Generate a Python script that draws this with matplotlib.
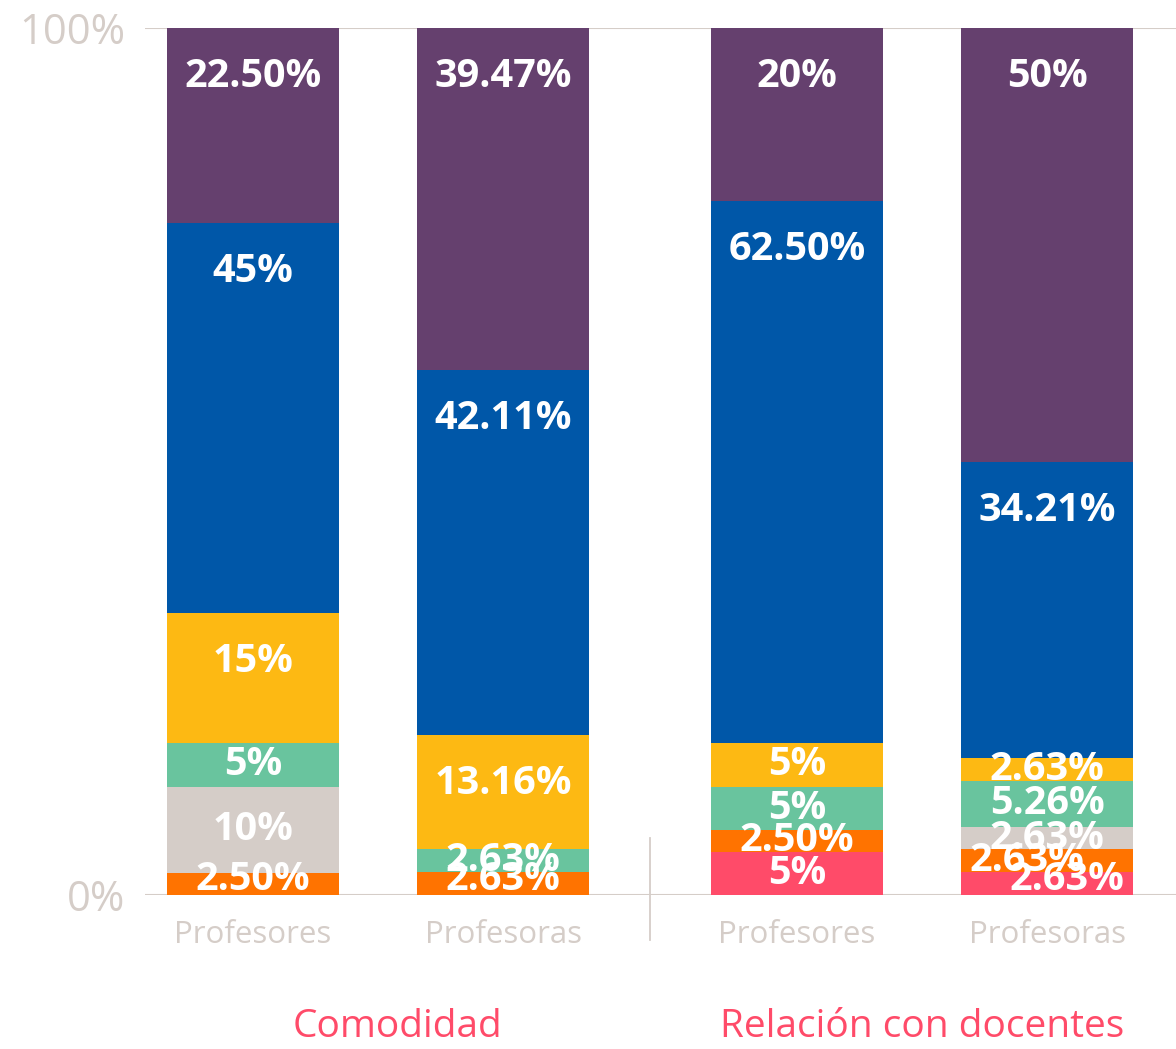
import numpy as np
import matplotlib
matplotlib.use("Agg")
import matplotlib.pyplot as plt

# stacked shares per bar, bottom to top
segments = ["Muy malo", "Malo", "Regular", "Aceptable", "Bueno", "Muy bueno", "Excelente"]
colors = ["#ff4b69", "#ff7300", "#d5cdc8", "#69c49e", "#fdb913", "#0057a8", "#65406e"]

groups = ["Comodidad", "Relación con docentes"]
bar_names = ["Profesores", "Profesoras", "Profesores", "Profesoras"]

comodidad_prof = [0, 2.50, 10, 5, 15, 45, 22.50]
comodidad_profa = [0, 2.63, 0, 2.63, 13.16, 42.11, 39.47]
relacion_prof = [5, 2.50, 0, 5, 5, 62.50, 20]
relacion_profa = [2.63, 2.63, 2.63, 5.26, 2.63, 34.21, 50]

bars = [comodidad_prof, comodidad_profa, relacion_prof, relacion_profa]

light = "#d5cdc8"
accent = "#ff4b69"
plt.rcParams["font.family"] = ["Open Sans", "DejaVu Sans"]

fig = plt.figure(figsize=(11.76, 10.49), dpi=100)
ax = fig.add_axes([0.1233, 0.1468, 0.8767, 0.8265])

gap = 0.176
xpos = [g * (2 + gap) + i for g in range(2) for i in range(2)]
width = 0.688

# small horizontal nudges for crowded labels (bar index, segment index) -> dx
nudge = {(3, 0): 0.08, (3, 1): -0.08}

for b, vals in enumerate(bars):
    bottom = 0.0
    for s, v in enumerate(vals):
        if v <= 0:
            continue
        ax.bar(xpos[b], v, width, bottom=bottom, color=colors[s], linewidth=0)
        top = bottom + v
        y = top - min(v / 2, 5.6)
        y = max(y, 1.8)
        txt = f"{v:.2f}%" if v != int(v) else f"{int(v)}%"
        ax.text(xpos[b] + nudge.get((b, s), 0), y, txt, ha="center", va="center",
                color="white", fontsize=28.5, fontweight="bold")
        bottom = top

ax.axhline(100, color=light, lw=1.5, zorder=0)
ax.axhline(0, color=light, lw=1.5, zorder=0)

sep = (xpos[1] + xpos[2]) / 2
ax.plot([sep, sep], [6.6, -5.2], color=light, lw=1.3, clip_on=False)

ax.set_xlim(-0.432, 3.692)
ax.set_ylim(0, 100)
ax.set_yticks([0, 100])
ax.set_yticklabels(["0%", "100%"], fontsize=30, color=light)
ax.set_xticks(xpos)
ax.set_xticklabels(bar_names, fontsize=22.5, color=light)
ax.tick_params(axis="y", length=0, pad=14)
ax.tick_params(axis="x", length=0, pad=18)
for sp in ax.spines.values():
    sp.set_visible(False)

# group titles under each pair of bars
group_dx = [0.076, 0.0]
for g, name in enumerate(groups):
    xc = (xpos[2 * g] + xpos[2 * g + 1]) / 2 + group_dx[g]
    fx = ax.transData.transform((xc, 0))[0] / fig.bbox.width
    fig.text(fx, 0.021, name, ha="center", va="center", fontsize=28, color=accent)

fig.savefig("out.png", dpi=100)
